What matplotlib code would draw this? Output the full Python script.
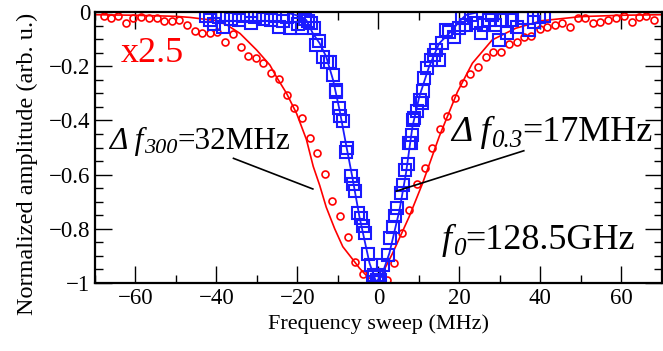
import matplotlib
matplotlib.use('Agg')
import matplotlib.pyplot as plt
from matplotlib.ticker import MultipleLocator

plt.rcParams['font.family'] = ['Liberation Serif', 'DejaVu Serif']

# red circles (x2.5 trace)
red_x = [-67.9, -66.1, -64.3, -62.4, -60.6, -58.6, -56.7, -54.8, -52.9, -51.1,
         -49.2, -47.3, -45.4, -43.5, -41.6, -39.8, -37.9, -36.0, -34.0, -32.2,
         -30.3, -28.4, -26.6, -24.6, -22.7, -20.8, -18.9, -17.0, -15.1, -13.2,
         -11.4, -9.5, -7.5, -5.7, -3.9, -1.8,
         2.0, 3.9, 5.7, 7.6, 9.5, 11.4, 13.3, 15.1, 17.0, 18.9,
         20.8, 22.7, 24.6, 26.5, 28.4, 30.2, 32.2, 34.1, 36.0, 37.8,
         39.8, 41.6, 43.5, 45.4, 47.3, 49.2, 51.1, 52.9, 54.8, 56.8,
         58.7, 60.6, 62.5, 64.3, 66.2, 68.1]
red_y = [-0.015, -0.023, -0.015, -0.039, -0.023, -0.020, -0.023, -0.023, -0.032, -0.032,
         -0.030, -0.048, -0.070, -0.076, -0.076, -0.073, -0.110, -0.082, -0.130, -0.162,
         -0.171, -0.189, -0.224, -0.248, -0.306, -0.356, -0.392, -0.464, -0.521, -0.598,
         -0.697, -0.751, -0.830, -0.922, -0.968, -0.999,
         -0.989, -0.926, -0.816, -0.731, -0.636, -0.576, -0.503, -0.432, -0.384, -0.319,
         -0.263, -0.229, -0.202, -0.167, -0.149, -0.149, -0.119, -0.110, -0.091, -0.089,
         -0.063, -0.057, -0.048, -0.042, -0.057, -0.023, -0.023, -0.039, -0.036, -0.030,
         -0.021, -0.014, -0.038, -0.020, -0.015, -0.030]

# red fit line
red_fit_x = [-70, -60, -50, -46.5, -40, -37.4, -34.2, -30.1, -26.8, -25.2, -22.7,
             -20.2, -17.8, -16.1, -14.5, -12.9, -10.8, -8.8, -6.5, -4.7, -2.5, 0,
             1.8, 3.5, 7.6, 10.9, 15.0, 19.5, 23.2, 28.1, 33.9, 40.4, 50, 60, 70]
red_fit_y = [-0.010, -0.012, -0.016, -0.020, -0.032, -0.048, -0.079, -0.140, -0.196, -0.239, -0.300,
             -0.375, -0.47, -0.57, -0.64, -0.72, -0.80, -0.866, -0.91, -0.945, -0.98, -0.995,
             -0.94, -0.89, -0.755, -0.632, -0.46, -0.295, -0.189, -0.103, -0.060, -0.032, -0.017, -0.012, -0.010]

# blue squares
blue_x = [-42.6, -41.5, -40.5, -39.5, -38.3, -37.5, -36.5, -35.5, -34.5, -33.5,
          -32.5, -31.5, -30.5, -29.5, -28.5, -27.5, -26.5, -25.5, -24.5, -23.5,
          -22.5, -21.8, -20.8, -19.8, -19.0, -18.2, -17.4, -16.6, -16.0, -15.3,
          -14.7, -13.8, -12.7, -12.0, -11.2, -10.6, -10.4, -9.8, -9.6, -8.8,
          -8.1, -7.8, -6.9, -6.3, -5.7, -5.1, -4.3, -3.7, -3.2, -2.6,
          -1.8, -1.4, -1.0, -0.4, 0.25, 0.5, 1.2, 2.3, 2.95, 3.5,
          4.2, 4.5, 5.6, 6.1, 6.6, 7.2, 7.6, 8.1, 8.4, 8.6,
          8.9, 9.4, 10.2, 10.7, 11.1, 11.3, 12.1, 13.0, 13.8, 14.2,
          15.0, 15.7, 16.6, 17.5, 18.7, 19.9, 20.7, 21.6, 22.8, 24.0,
          25.3, 26.1, 27.3, 28.1, 28.9, 29.7, 30.6, 31.8, 33.0, 34.3,
          35.5, 37.1, 38.4, 39.6, 40.8]
blue_y = [-0.015, -0.030, -0.045, -0.020, -0.055, -0.012, -0.025, -0.010, -0.030, -0.015,
          -0.010, -0.040, -0.020, -0.012, -0.025, -0.010, -0.030, -0.015, -0.055, -0.035,
          -0.020, -0.060, -0.015, -0.045, -0.060, -0.025, -0.035, -0.042, -0.060, -0.122,
          -0.106, -0.165, -0.183, -0.186, -0.232, -0.288, -0.294, -0.356, -0.384, -0.402,
          -0.515, -0.503, -0.605, -0.636, -0.661, -0.741, -0.761, -0.790, -0.814, -0.893,
          -0.934, -0.995, -0.970, -0.989, -0.970, -0.990, -0.934, -0.897, -0.835, -0.792,
          -0.753, -0.724, -0.669, -0.638, -0.583, -0.561, -0.485, -0.482, -0.454, -0.399,
          -0.392, -0.364, -0.325, -0.337, -0.290, -0.245, -0.208, -0.177, -0.159, -0.140,
          -0.177, -0.113, -0.066, -0.073, -0.091, -0.060, -0.023, -0.048, -0.011, -0.042,
          -0.079, -0.048, -0.030, -0.011, -0.048, -0.103, -0.030, -0.079, -0.030, -0.054,
          -0.023, -0.066, -0.036, -0.017, -0.015]

# blue line
blue_fit_x = [-22, -19.5, -17.8, -16.2, -14.5, -12.9, -11.2, -9.6, -7.9, -6.5, -4.7,
              -2.2, -0.6, 0.7, 2.7, 5.2, 6.8, 8.4, 10.1, 12.5, 15.0, 18.3, 19.9, 21.6, 24]
blue_fit_y = [-0.005, -0.015, -0.030, -0.079, -0.116, -0.165, -0.251, -0.362, -0.497, -0.605, -0.755,
              -0.927, -0.995, -0.977, -0.890, -0.731, -0.595, -0.423, -0.312, -0.202, -0.116, -0.066, -0.036, -0.011, -0.003]

y_ticks = [-1, -0.8, -0.6, -0.4, -0.2, 0]
y_labels = ['\u22121', '\u22120.8', '\u22120.6', '\u22120.4', '\u22120.2', '0']


def sub_label(ax, x, y, main, sub, rest, size, sub_size):
    # italic main symbol, italic subscript, then upright remainder on the main baseline
    t1 = ax.text(x, y, main, fontsize=size, style='italic', va='bottom')
    t2 = ax.annotate(sub, xy=(1, 0), xycoords=t1, xytext=(0.5, -2), textcoords='offset points',
                     fontsize=sub_size, style='italic', va='bottom')
    ax.annotate(rest, xy=(1, 0), xycoords=(t2, t1), xytext=(0, 0), textcoords='offset points',
                fontsize=size, va='bottom')


fig = plt.figure(figsize=(6.63, 3.51), dpi=100)
ax = fig.add_axes([0.1433, 0.1937, 0.855, 0.7721])

ax.plot(red_fit_x, red_fit_y, color='#ff0000', lw=1.2)
ax.plot(red_x, red_y, 'o', ms=5, mfc='none', mec='#ff0000', mew=1.2)
ax.plot(blue_fit_x, blue_fit_y, color='#1a1aff', lw=1.3)
ax.plot(blue_x, blue_y, 's', ms=8, mfc='none', mec='#1a1aff', mew=1.5)

ax.set_xlim(-70, 70)
ax.set_ylim(-1, 0)
ax.xaxis.set_major_locator(MultipleLocator(20))
ax.xaxis.set_minor_locator(MultipleLocator(10))
ax.set_yticks(y_ticks)
ax.set_yticklabels(y_labels)
ax.yaxis.set_minor_locator(MultipleLocator(0.05))
ax.tick_params(which='both', direction='in', top=True, right=True, width=1.0, labelsize=16.5)
ax.tick_params(which='major', length=12)
ax.tick_params(which='minor', length=5.5)
for s in ax.spines.values():
    s.set_linewidth(1.6)

ax.set_xlabel('Frequency sweep (MHz)', fontsize=16)
ax.set_ylabel('Normalized amplitude (arb. u.)', fontsize=17.5)
ax.yaxis.set_label_coords(-0.10, 0.44)

ax.text(-63.7, -0.185, 'x2.5', color='#ff0000', fontsize=26)

sub_label(ax, -66.6, -0.53, '\u0394 f', '300', '=32MHz', 22.5, 16)
ax.plot([-35.8, -16.2], [-0.540, -0.653], color='black', lw=1.2)
sub_label(ax, 17.9, -0.505, '\u0394 f', '0.3', '=17MHz', 26, 18)
ax.plot([35.9, 4.4], [-0.512, -0.661], color='black', lw=1.2)
sub_label(ax, 15.7, -0.905, 'f', '0', '=128.5GHz', 26, 18)

fig.savefig('out.png', dpi=100)
